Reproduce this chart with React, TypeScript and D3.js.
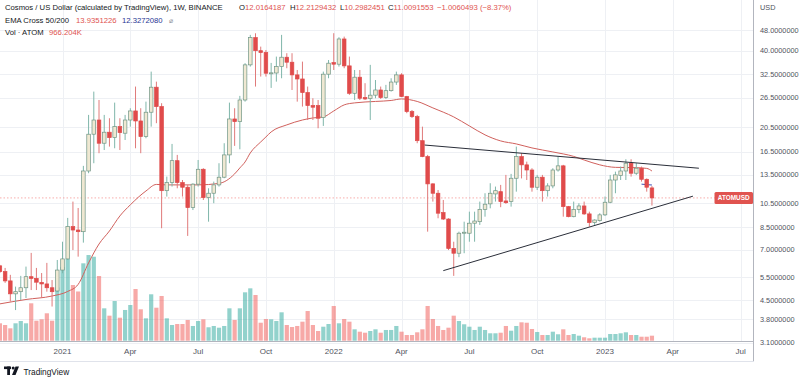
import React from "react";
import * as d3 from "d3";

// ---------- data ----------
const firstBarDate = "2020-10-12"; // weekly bars, one per week from this Monday

const opens = [
  6.07, 5.77, 5.32, 4.75, 4.84, 5.01, 5.52, 5.44, 5.25, 5.18,
  5.01, 4.87, 5.85, 6.45, 8.56, 8.31, 8.19, 13.94, 19.24, 21.79,
  17.78, 19.58, 18.67, 20.56, 19.41, 21.79, 23.59, 21.61, 18.84, 23.33,
  29.05, 24.51, 11.73, 12.59, 15.26, 12.59, 12.09, 10.11, 12.42, 14.15,
  11.04, 11.47, 12.34, 13.2, 16.05, 21.99, 21.48, 25.97, 35.33, 44.86,
  40.01, 39.34, 32.84, 32.9, 34.8, 37.78, 36.16, 32.36, 31.22, 27.71,
  24.73, 24.73, 22.25, 32.56, 36.04, 35.54, 44.33, 35.02, 27.54, 31.71,
  26.52, 26.28, 27.09, 28.35, 26.52, 28.18, 30.39, 32.36, 26.76, 23.45,
  22.45, 18.18, 15.81, 12.45, 11.47, 9.68, 9.15, 7.07, 6.78, 8.08,
  8.08, 8.82, 8.94, 9.96, 10.45, 11.4, 11.63, 10.72, 10.66, 13.08,
  15.81, 14.71, 14.06, 12.09, 13.2, 11.73, 12.23, 14.06, 14.58, 10.2,
  9.34, 9.96, 10.26, 9.57, 8.87, 9.02, 9.49, 10.6, 12.88, 13.39,
  13.94, 14.92, 13.67, 14.28, 12.96, 12.0164187,
];
const highs = [
  6.12, 5.96, 5.61, 5.06, 5.56, 6.03, 6.8, 5.96, 5.7, 6.23,
  5.36, 6.39, 7.5, 9.24, 10.66, 10.08, 14.58, 22.79, 27.95, 25.97,
  22.79, 22.13, 25.38, 22.13, 22.79, 24.16, 29.21, 24.16, 25.6, 33.3,
  30.5, 25.25, 13.27, 17.67, 16.05, 12.88, 12.34, 12.52, 15.35, 14.28,
  11.98, 12.7, 14.92, 17.78, 25.38, 24.16, 26.92, 35.85, 45.95, 46.6,
  41.46, 40.25, 35.94, 37.99, 45.95, 39.13, 39.13, 33.78, 36.35, 29.21,
  26.37, 25.97, 33.3, 36.87, 46.63, 45.02, 45.26, 37.99, 33.78, 33.78,
  30.09, 35.33, 30.94, 29.21, 29.65, 31.42, 33.3, 32.84, 26.92, 23.79,
  22.79, 20.56, 16.05, 12.52, 11.8, 10.81, 9.21, 7.5, 8.19, 8.94,
  9.76, 9.76, 10.66, 11.47, 12.52, 12.16, 12.34, 13.47, 13.59, 17.26,
  16.29, 15.13, 14.28, 13.47, 13.47, 12.52, 14.28, 15.81, 14.71, 10.26,
  10.66, 10.51, 10.66, 9.76, 9.12, 9.63, 11.14, 13.47, 13.86, 14.49,
  15.45, 15.45, 14.92, 14.49, 13.06, 12.2129432,
];
const lows = [
  5.7, 5.23, 4.44, 4.12, 4.5, 4.58, 4.91, 4.91, 4.58, 4.84,
  4.25, 4.83, 5.69, 6.39, 6.97, 6.58, 7.44, 13.67, 14.92, 16.29,
  16.75, 17.26, 17.01, 16.75, 18.29, 20.56, 17.01, 16.29, 18.57, 20.56,
  21.19, 8.44, 11.14, 12.16, 11.98, 11.14, 7.89, 9.9, 12.16, 10.81,
  8.94, 10.51, 12.16, 13.08, 14.92, 17.37, 16.86, 25.6, 34.8, 29.21,
  31.89, 31.89, 28.87, 30.5, 31.42, 34.3, 28.35, 25.6, 24.51, 21.79,
  21.79, 20.27, 20.69, 31.42, 33.78, 34.8, 34.3, 27.16, 25.97, 25.97,
  25.97, 21.79, 26.37, 26.21, 26.21, 27.95, 29.65, 26.61, 23.13, 22.19,
  17.78, 15.73, 8.19, 10.66, 9.21, 9.07, 6.97, 5.56, 6.55, 6.78,
  7.5, 7.5, 8.69, 9.34, 10.05, 10.66, 10.15, 10.45, 10.2, 11.63,
  13.06, 12.88, 11.63, 11.8, 10.66, 11.14, 11.98, 13.86, 9.34, 9.29,
  9.29, 9.63, 9.49, 8.56, 8.69, 8.94, 9.4, 10.51, 11.47, 12.88,
  12.88, 13.27, 13.47, 12.7, 11.63, 10.2982451,
];
const closes = [
  5.77, 5.32, 4.75, 4.84, 5.01, 5.52, 5.44, 5.26, 5.18, 5.01,
  4.84, 5.85, 6.45, 8.56, 8.31, 8.19, 13.94, 19.24, 21.79, 17.78,
  19.58, 18.67, 20.56, 19.51, 21.79, 23.59, 21.61, 18.84, 23.33, 29.05,
  24.51, 11.73, 12.59, 15.26, 12.59, 12.09, 10.11, 12.42, 14.15, 11.04,
  11.47, 12.34, 13.2, 16.05, 21.99, 21.48, 25.97, 35.33, 44.86, 40.01,
  39.34, 32.84, 32.95, 34.8, 37.78, 36.16, 32.36, 31.22, 27.71, 24.73,
  24.38, 22.13, 32.56, 35.85, 35.54, 44.33, 35.02, 27.54, 31.71, 26.37,
  26.21, 27.09, 28.35, 26.52, 28.18, 30.39, 32.36, 26.76, 23.45, 22.45,
  18.18, 15.81, 12.45, 11.47, 9.63, 9.15, 7.07, 6.78, 8.08, 8.15,
  8.82, 8.99, 9.96, 10.42, 11.47, 11.73, 10.66, 10.56, 13.08, 15.81,
  14.71, 14.06, 12.09, 13.2, 11.73, 12.23, 14.06, 14.58, 10.2, 9.34,
  9.96, 10.26, 9.57, 8.87, 9.07, 9.49, 10.6, 12.88, 13.47, 13.94,
  14.92, 13.67, 14.28, 12.96, 12.09, 11.0091553,
];
// weekly volume, millions of ATOM
const volumes = [
  3.36, 3.03, 2.39, 3.36, 3.8, 3.36, 7.22, 3.86, 4.13, 5.29,
  3.86, 10.27, 14.22, 15.77, 10.75, 9.5, 14.94, 16.54, 16.21, 12.49,
  6.25, 4.83, 7.66, 4.44, 5.93, 6.89, 9.98, 6.06, 4.32, 8.96,
  6.37, 8.63, 4.32, 3.03, 3.22, 3.22, 4.0, 2.84, 3.8, 4.13,
  2.59, 2.84, 2.51, 2.84, 6.25, 4.0, 6.25, 9.34, 10.11, 8.82,
  3.47, 4.19, 4.13, 3.8, 5.48, 3.03, 2.64, 2.84, 3.67, 5.73,
  3.03, 1.87, 2.7, 3.22, 6.7, 3.36, 4.19, 3.67, 2.2, 1.74,
  1.54, 1.87, 2.2, 1.54, 2.07, 2.07, 2.84, 1.74, 1.1, 1.1,
  1.62, 2.2, 6.7, 4.19, 2.84, 2.07, 2.51, 4.83, 3.8, 3.17,
  2.7, 2.07, 2.7, 2.07, 1.43, 1.43, 1.54, 2.84, 1.93, 2.84,
  3.55, 3.47, 2.26, 1.68, 1.1, 1.1, 1.74, 1.24, 2.2, 1.1,
  1.29, 0.97, 0.66, 0.46, 0.58, 0.58, 0.58, 1.29, 1.29, 1.43,
  1.62, 1.1, 1.1, 0.77, 0.77, 0.966204,
];

// EMA 50 (bar index -> value)
const ema50Bars = [0, 5, 10, 13, 15, 17, 19, 21, 23, 25, 28, 30, 32, 38, 42, 45, 46, 47, 48, 50, 51, 52, 55, 58, 60, 62, 64, 66, 68, 72, 75, 77, 80, 83, 87, 90, 93, 96, 99, 102, 106, 110, 112, 115, 118, 122, 124, 125];
const ema50Values = [4.35, 4.52, 4.66, 4.85, 5.16, 6.23, 7.35, 8.24, 9.4, 10.36, 11.7, 12.39, 12.34, 12.34, 12.5, 13.59, 14.32, 15.09, 16.33, 17.98, 18.79, 19.63, 20.88, 21.79, 22.19, 22.39, 23.59, 24.88, 25.32, 25.64, 25.86, 26.21, 25.64, 24.23, 22.39, 20.69, 19.13, 18.14, 17.67, 17.06, 16.47, 15.84, 15.35, 14.71, 14.39, 14.35, 14.26, 13.9351226];
// EMA 200 only starts at the very end
const ema200Bars = [123, 124, 125];
const ema200Values = [12.42, 12.37, 12.327208];

const priceTicks = [48, 40, 32.5, 26.5, 20.5, 16.5, 13.5, 10.5, 8.5, 7, 5.5, 4.5, 3.8, 3.1];
const timeTickDates = ["2021-01-04", "2021-04-05", "2021-07-05", "2021-10-04", "2022-01-03", "2022-04-04", "2022-07-04", "2022-10-03", "2023-01-02", "2023-04-03", "2023-07-03"];
const timeTickLabels = ["2021", "Apr", "Jul", "Oct", "2022", "Apr", "Jul", "Oct", "2023", "Apr", "Jul"];

// hand-drawn trend lines (date, price)
const upperLineDates = ["2022-05-05", "2023-05-08"];
const upperLinePrices = [17.5, 14.28];
const lowerLineDates = ["2022-05-30", "2023-04-30"];
const lowerLinePrices = [5.82, 11.18];

// ---------- styling ----------
const PANE_R = 753.5;
const PANE_B = 341;
const FONT = "'Liberation Sans', Arial, sans-serif";
const DARK = "#131722";
const RED = "#e0534f";
const UP_FILL = "#efe8d2";
const UP_STROKE = "#6f9585";
const UP_WICK = "#7fb6aa";
const DN_FILL = "#e04b4b";
const DN_WICK = "#e07a7a";
const GRID = "#eef0f4";

const pd = (s: string) => new Date(s + "T00:00:00Z");

export default function App() {
  const start = pd(firstBarDate);
  const dates = opens.map((_, i) => d3.utcDay.offset(start, 7 * i));

  const x = d3.scaleUtc().domain([pd("2021-01-04"), pd("2023-01-02")]).range([62.5, 605]);
  const y = d3.scaleLog().domain([48, 4.5]).range([29.9, 300]);
  const yv = d3.scaleLinear().domain([0, 20]).range([340.7, 237.1]);

  const ema50Path = d3
    .line<[number, number]>()
    .x((d) => x(dates[d[0]]))
    .y((d) => y(d[1]))
    .curve(d3.curveMonotoneX)(ema50Bars.map((b, i) => [b, ema50Values[i]] as [number, number]));
  const ema200Path = d3
    .line<[number, number]>()
    .x((d) => x(dates[d[0]]))
    .y((d) => y(d[1]))(ema200Bars.map((b, i) => [b, ema200Values[i]] as [number, number]));

  const bodyW = 3.6;
  const volW = 4.2;
  const last = closes.length - 1;
  const lastY = y(closes[last]);

  const ohlc: [string, string, number][] = [
    ["O", opens[last].toFixed(7), 239],
    ["H", highs[last].toFixed(7), 290],
    ["L", lows[last].toFixed(7), 340],
    ["C", closes[last].toFixed(7), 388],
  ];

  return (
    <svg
      width={800}
      height={381}
      style={{ position: "fixed", left: 0, top: 0, background: "#fff", display: "block" }}
      fontFamily={FONT}
    >
      <defs>
        <clipPath id="pane">
          <rect x={0} y={0} width={PANE_R} height={PANE_B} />
        </clipPath>
      </defs>
      <rect x={0} y={0} width={800} height={381} fill="#fff" />

      {/* grid */}
      <g shapeRendering="crispEdges">
        {priceTicks.map((t) => (
          <line key={"h" + t} x1={0} x2={PANE_R} y1={Math.round(y(t)) + 0.5} y2={Math.round(y(t)) + 0.5} stroke={GRID} />
        ))}
        {timeTickDates.map((d) => (
          <line key={"v" + d} x1={Math.round(x(pd(d))) + 0.5} x2={Math.round(x(pd(d))) + 0.5} y1={0} y2={PANE_B} stroke={GRID} />
        ))}
      </g>

      <g clipPath="url(#pane)">
        {/* volume */}
        {volumes.map((v, i) => {
          const up = closes[i] >= opens[i];
          return (
            <rect
              key={"v" + i}
              x={x(dates[i]) - volW / 2}
              y={yv(v)}
              width={volW}
              height={yv(0) - yv(v)}
              fill={up ? "#26a69a" : "#ef5350"}
              fillOpacity={0.5}
            />
          );
        })}

        {/* last price line */}
        <line x1={0} x2={PANE_R} y1={lastY} y2={lastY} stroke="#ef5350" strokeOpacity={0.6} strokeDasharray="1.5,2" strokeWidth={0.8} />

        {/* EMA lines */}
        <path d={ema50Path || ""} fill="none" stroke="#d0605c" strokeWidth={1} />
        <path d={ema200Path || ""} fill="none" stroke="#3f51b5" strokeWidth={1} />

        {/* candles */}
        {opens.map((o, i) => {
          const c = closes[i];
          const up = c >= o;
          const cx = x(dates[i]);
          const yTop = y(Math.max(o, c));
          const yBot = y(Math.min(o, c));
          const h = Math.max(1, yBot - yTop);
          return (
            <g key={"c" + i}>
              <line x1={cx} x2={cx} y1={y(highs[i])} y2={y(lows[i])} stroke={up ? UP_WICK : DN_WICK} strokeWidth={1} />
              <rect
                x={cx - bodyW / 2}
                y={yTop}
                width={bodyW}
                height={h}
                fill={up ? UP_FILL : DN_FILL}
                stroke={up ? UP_STROKE : DN_FILL}
                strokeWidth={0.7}
              />
            </g>
          );
        })}

        {/* trend lines */}
        <line
          x1={x(pd(upperLineDates[0]))}
          y1={y(upperLinePrices[0])}
          x2={x(pd(upperLineDates[1]))}
          y2={y(upperLinePrices[1])}
          stroke="#2a2e39"
          strokeWidth={1}
        />
        <line
          x1={x(pd(lowerLineDates[0]))}
          y1={y(lowerLinePrices[0])}
          x2={x(pd(lowerLineDates[1]))}
          y2={y(lowerLinePrices[1])}
          stroke="#2a2e39"
          strokeWidth={1}
        />
      </g>

      {/* ATOMUSD tag */}
      <rect x={714.5} y={lastY - 6} width={38.5} height={12} rx={1.5} fill={RED} />
      <text x={733.7} y={lastY + 2.4} fill="#fff" fontSize={6.4} fontWeight="bold" textAnchor="middle">
        ATOMUSD
      </text>

      {/* axes borders */}
      <g shapeRendering="crispEdges">
        <line x1={0} x2={PANE_R} y1={341.5} y2={341.5} stroke="#b2b5be" />
        <line x1={PANE_R} x2={PANE_R} y1={0} y2={361} stroke="#b2b5be" />
        <line x1={0} x2={PANE_R} y1={361.5} y2={361.5} stroke="#e0e3eb" />
      </g>

      {/* price axis labels */}
      <text x={760} y={9.5} fontSize={7.3} fill="#50535e">
        USD
      </text>
      {priceTicks.map((t) => (
        <text key={"pt" + t} x={760} y={y(t) + 2.7} fontSize={7.3} fill="#50535e">
          {t.toFixed(7)}
        </text>
      ))}

      {/* time axis labels */}
      {timeTickDates.map((d, i) => (
        <text key={"tt" + d} x={x(pd(d))} y={354} fontSize={8} fill="#50535e" textAnchor="middle">
          {timeTickLabels[i]}
        </text>
      ))}

      {/* legend */}
      <g fontSize={7.7}>
        <text x={5} y={10} fill={DARK}>
          Cosmos / US Dollar (calculated by TradingView), 1W, BINANCE
        </text>
        {ohlc.map(([k, v, px]) => (
          <text key={"l" + k} x={px} y={10} fill={DARK}>
            {k}
            <tspan fill={RED}>{v}</tspan>
          </text>
        ))}
        <text x={437} y={10} fill={RED}>−1.0060493 (−8.37%)</text>

        <text x={5} y={23} fill={DARK}>EMA Cross 50/200</text>
        <text x={76} y={23} fill={RED}>{ema50Values[ema50Values.length - 1].toFixed(7)}</text>
        <text x={122} y={23} fill="#283593">{ema200Values[ema200Values.length - 1].toFixed(7)}</text>
        <text x={169} y={23} fill="#8a8d96" fontSize={7}>⌀</text>

        <text x={5} y={35.3} fill={DARK}>Vol · ATOM</text>
        <text x={49} y={35.3} fill={RED}>966.204K</text>
      </g>

      {/* TradingView logo */}
      <g fill={DARK}>
        <rect x={4} y={366.5} width={7} height={2.6} />
        <rect x={7.2} y={366.5} width={2.8} height={8.5} />
        <circle cx={13.2} cy={368} r={1.5} />
        <polygon points="12,375 15.5,366.5 19,366.5 15.5,375" />
        <text x={23.5} y={374.5} fontSize={8.3} fill={DARK}>TradingView</text>
      </g>
    </svg>
  );
}
